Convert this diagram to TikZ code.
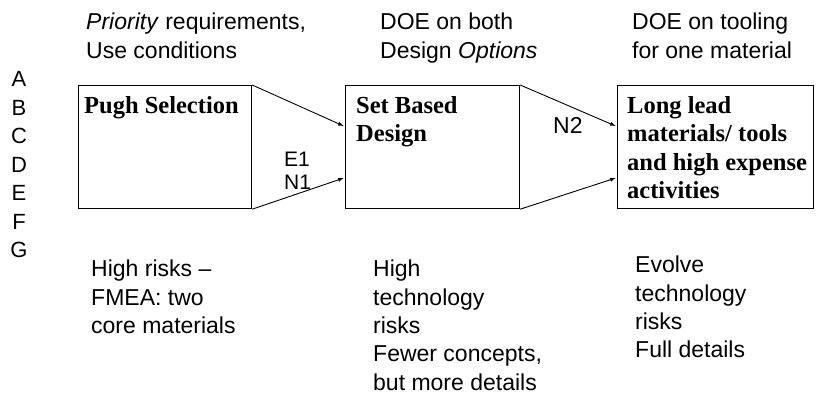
\documentclass[tikz,border=0pt]{standalone}
\usepackage{fontspec}
\setmainfont{Liberation Serif}
\setsansfont{Liberation Sans}
\usetikzlibrary{arrows}
\tikzset{>=latex}
\tikzset{stagebox/.style={draw, line width=1.2pt, anchor=north west, inner sep=0pt}}
\tikzset{stagetext/.style={anchor=north west, align=left, inner sep=0pt,
    font=\rmfamily\bfseries\fontsize{24.5}{28.5}\selectfont}}
\tikzset{note/.style={anchor=north west, align=left, inner sep=0pt,
    font=\sffamily\fontsize{23}{28.3}\selectfont}}
\tikzset{flow/.style={->, line width=0.9pt, shorten >=1.5pt}}

\begin{document}
\begin{tikzpicture}[x=1pt, y=-1pt]

\useasboundingbox (0,0) rectangle (816,406);

\def \boxtop {85}
\def \boxh {123}

% the three stages
\node[stagebox, minimum width=173pt, minimum height=\boxh pt] (pugh) at (78,\boxtop) {};
\node[stagebox, minimum width=174pt, minimum height=\boxh pt] (setb) at (345,\boxtop) {};
\node[stagebox, minimum width=196pt, minimum height=\boxh pt] (lead) at (617,\boxtop) {};

\node[stagetext] (pughtxt) at (84,96) {Pugh Selection};
\node[stagetext] (setbtxt) at (356,96) {Set Based\\Design};
\node[stagetext] (leadtxt) at (627,96) {Long lead\\materials/ tools\\and high expense\\activities};

% transitions
\draw[flow] (pugh.north east) -- ([yshift=20.5pt]setb.west);
\draw[flow] (pugh.south east) -- ([yshift=-30.5pt]setb.west);
\draw[flow] (setb.north east) -- ([yshift=20.5pt]lead.west);
\draw[flow] (setb.south east) -- ([yshift=-30.5pt]lead.west);

\node[note, font=\sffamily\fontsize{21}{23}\selectfont] (en1) at (284,152) {E1\\N1};
\node[note] (ntwo) at (553,117) {N2};

% inputs above
\node[note] (prio) at (86,13) {\textit{Priority} requirements,\\Use conditions};
\node[note] (doeboth) at (380,13) {DOE on both\\Design \textit{Options}};
\node[note] (doetool) at (632,13) {DOE on tooling\\for one material};

% risks below
\node[note] (risk1) at (91,260) {High risks --\\FMEA: two\\core materials};
\node[note] (risk2) at (373,260) {High\\technology\\risks\\Fewer concepts,\\but more details};
\node[note] (risk3) at (635,256) {Evolve\\technology\\risks\\Full details};

% row letters
\foreach \l [count=\i from 0] in {A,B,C,D,E,F,G}
  \node[note, anchor=center, font=\sffamily\fontsize{22}{24}\selectfont] (row\l) at (19,{79+28.5*\i}) {\l};

\end{tikzpicture}
\end{document}
